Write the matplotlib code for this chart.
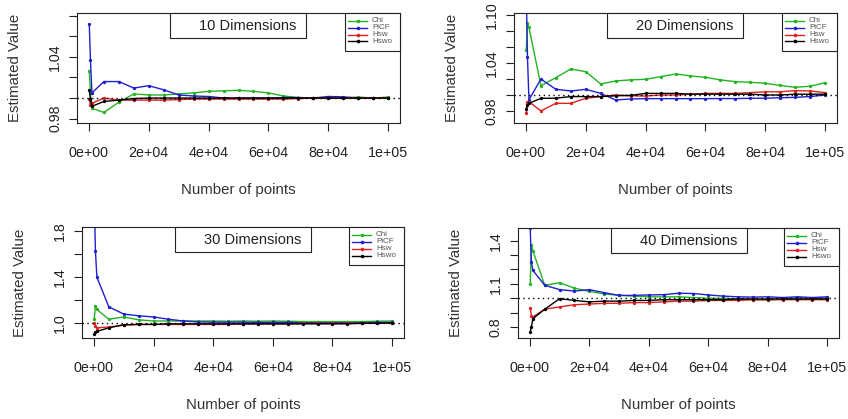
import matplotlib
matplotlib.use('Agg')
import matplotlib.pyplot as plt
from matplotlib.patches import Rectangle

plt.rcParams['font.family'] = ['Liberation Sans', 'DejaVu Sans']

# sample sizes the estimators were evaluated at
n_points = [100, 500, 1000, 5000, 10000, 15000, 20000, 25000, 30000, 35000, 40000, 45000,
            50000, 55000, 60000, 65000, 70000, 75000, 80000, 85000, 90000, 95000, 100000]

# 10 dimensions
chi_10 = [1.026, 1.005, 0.990, 0.986, 0.996, 1.004, 1.003, 1.003, 1.004, 1.005, 1.0065, 1.007,
          1.0075, 1.0065, 1.005, 1.002, 1.0005, 1.0, 1.0005, 1.0, 1.001, 1.0, 1.001]
picf_10 = [1.072, 1.037, 1.005, 1.016, 1.016, 1.0097, 1.012, 1.008, 1.003, 1.002, 1.0015, 1.0,
           1.0, 1.0, 1.0, 1.0005, 1.0005, 1.0, 1.0015, 1.0012, 1.0, 1.0, 1.0]
hsw_10 = [0.999, 0.9935, 0.995, 1.0, 0.998, 0.998, 0.998, 0.998, 0.9985, 0.999, 0.999, 0.999,
          0.999, 0.999, 0.999, 0.999, 0.9995, 1.0, 1.0, 1.0, 1.0, 1.0, 1.0]
hswo_10 = [1.008, 0.999, 0.992, 0.9967, 0.998, 0.9995, 1.0, 1.0, 1.0, 1.0, 1.0, 1.0,
           1.0, 1.0, 1.0, 1.0, 1.0, 1.0, 1.0, 1.0, 1.0, 1.0, 1.0]

# 20 dimensions
chi_20 = [1.057, 1.090, 1.085, 1.0117, 1.0218, 1.0327, 1.0293, 1.0138, 1.0176, 1.019, 1.0197, 1.023,
          1.0264, 1.024, 1.0222, 1.019, 1.0168, 1.016, 1.0147, 1.012, 1.0096, 1.011, 1.0155]
picf_20 = [1.13, 1.048, 0.994, 1.020, 1.0071, 1.005, 1.0071, 1.002, 0.9937, 0.995, 0.9954, 0.9954,
           0.9954, 0.9954, 0.9954, 0.9955, 0.9955, 0.9958, 0.996, 0.9965, 0.997, 0.998, 1.0]
hsw_20 = [0.977, 0.991, 0.9916, 0.980, 0.9895, 0.9895, 0.9958, 0.998, 1.0, 0.999, 0.9987, 1.0,
          1.0, 1.001, 1.002, 1.002, 1.002, 1.003, 1.004, 1.004, 1.0055, 1.005, 1.003]
hswo_20 = [0.983, 0.987, 0.9895, 0.9958, 0.996, 0.998, 0.998, 0.998, 0.999, 0.9995, 1.002, 1.002,
           1.002, 1.001, 1.001, 1.001, 1.001, 1.001, 1.0, 1.0, 1.001, 1.001, 1.001]

# 30 dimensions
chi_30 = [1.04, 1.15, 1.12, 1.035, 1.055, 1.03, 1.02, 1.02, 1.02, 1.02, 1.02, 1.018,
          1.02, 1.018, 1.02, 1.018, 1.015, 1.015, 1.015, 1.015, 1.015, 1.018, 1.02]
picf_30 = [2.1, 1.63, 1.40, 1.143, 1.08, 1.065, 1.055, 1.035, 1.02, 1.012, 1.01, 1.01,
           1.01, 1.008, 1.008, 1.008, 1.005, 1.005, 1.005, 1.005, 1.005, 1.008, 1.008]
hsw_30 = [1.0, 0.975, 0.96, 0.968, 0.983, 0.99, 0.99, 0.99, 0.99, 0.99, 0.99, 0.99,
          0.995, 0.995, 0.995, 0.995, 1.0, 1.0, 1.0, 1.0, 1.0, 1.0, 1.0]
hswo_30 = [0.905, 0.92, 0.93, 0.96, 0.988, 0.99, 0.99, 0.995, 0.995, 0.995, 0.995, 0.995,
           0.995, 0.995, 0.995, 0.995, 0.995, 0.995, 0.995, 0.995, 1.0, 1.0, 1.005]

# 40 dimensions
chi_40 = [1.10, 1.37, 1.33, 1.09, 1.108, 1.07, 1.048, 1.03, 1.02, 1.015, 1.01, 1.01,
          1.01, 1.005, 1.0, 1.0, 0.995, 0.99, 0.988, 0.995, 1.005, 1.0, 1.0]
picf_40 = [1.49, 1.25, 1.194, 1.09, 1.06, 1.05, 1.06, 1.039, 1.02, 1.02, 1.023, 1.025,
           1.035, 1.033, 1.023, 1.015, 1.01, 1.008, 1.01, 1.005, 1.01, 1.005, 1.01]
hsw_40 = [0.933, 0.88, 0.87, 0.924, 0.94, 0.955, 0.96, 0.965, 0.965, 0.97, 0.97, 0.975,
          0.98, 0.98, 0.985, 0.985, 0.985, 0.99, 0.99, 0.99, 0.99, 0.99, 0.99]
hswo_40 = [0.766, 0.80, 0.858, 0.924, 0.997, 0.985, 0.975, 0.98, 0.98, 0.985, 0.985, 0.99,
           0.99, 0.99, 0.99, 0.99, 0.995, 0.995, 0.995, 0.995, 0.995, 0.995, 0.995]

series_names = ['Chi', 'PiCF', 'Hsw', 'Hswo']
series_colors = ['#22b422', '#1f1fd0', '#dd2020', 'black']

x_ticks = [0, 20000, 40000, 60000, 80000, 100000]
x_labels = ['0e+00', '2e+04', '4e+04', '6e+04', '8e+04', '1e+05']

y_ticks_10 = [0.98, 1.00, 1.02, 1.04, 1.06, 1.08]
y_labels_10 = ['0.98', '', '', '1.04', '', '']
y_ticks_20 = [0.98, 1.00, 1.02, 1.04, 1.06, 1.08, 1.10]
y_labels_20 = ['0.98', '', '', '1.04', '', '', '1.10']
y_ticks_30 = [1.0, 1.2, 1.4, 1.6, 1.8]
y_labels_30 = ['1.0', '', '1.4', '', '1.8']
y_ticks_40 = [0.8, 0.9, 1.0, 1.1, 1.2, 1.3, 1.4]
y_labels_40 = ['0.8', '', '', '1.1', '', '', '1.4']

W, H = 848, 419
fig = plt.figure(figsize=(W / 100, H / 100), dpi=100)


def add_panel(left, top, right, bottom, title, data, ylim, yticks, ylabels):
    ax = fig.add_axes([left / W, 1 - bottom / H, (right - left) / W, (bottom - top) / H])
    aw, ah = right - left, bottom - top

    for vals, col in zip(data, series_colors):
        ax.plot(n_points, vals, color=col, lw=1.0, marker='o', ms=2.4, mew=0)
    ax.axhline(1.0, color='black', lw=1.0, ls=(0, (1, 2.5)), zorder=5)

    ax.set_xlim(-4000, 104000)
    ax.set_ylim(*ylim)
    ax.set_xticks(x_ticks)
    ax.set_xticklabels(x_labels)
    ax.set_yticks(yticks)
    ax.set_yticklabels(ylabels)
    ax.tick_params(axis='both', length=5.8, width=0.8, labelsize=10.3, colors='#222222')
    ax.tick_params(axis='x', pad=10.5)
    ax.tick_params(axis='y', pad=5)
    plt.setp(ax.get_yticklabels(), rotation=90, va='center')
    for sp in ax.spines.values():
        sp.set_linewidth(0.8)
        sp.set_color('#222222')
    ax.set_xlabel('Number of points', fontsize=10.8, labelpad=17, color='#333333')
    ax.set_ylabel('Estimated Value', fontsize=10.8, labelpad=19, color='#333333')

    # title box at the top centre
    ax.add_patch(Rectangle((93 / aw, 1 - 25 / ah), 136 / aw, 25 / ah, transform=ax.transAxes,
                           facecolor='white', edgecolor='#222222', lw=0.8, zorder=10, clip_on=False))
    ax.text(122 / aw, 1 - 12.5 / ah, title, transform=ax.transAxes, fontsize=10.5,
            va='center', ha='left', zorder=11, color='#222222')

    # small legend in the top right corner
    ax.add_patch(Rectangle((1 - 55 / aw, 1 - 38 / ah), 55 / aw, 38 / ah, transform=ax.transAxes,
                           facecolor='white', edgecolor='#222222', lw=0.8, zorder=10, clip_on=False))
    for i, (name, col) in enumerate(zip(series_names, series_colors)):
        yy = 1 - (7.8 + 6.9 * i) / ah
        ax.plot([1 - 52 / aw, 1 - 33 / aw], [yy, yy], transform=ax.transAxes, color=col,
                lw=1.0, zorder=11, clip_on=False)
        ax.plot([1 - 42.5 / aw], [yy], transform=ax.transAxes, color=col, marker='o',
                ms=2.6, mew=0, zorder=11, clip_on=False)
        ax.text(1 - 28 / aw, yy, name, transform=ax.transAxes, fontsize=5.8,
                va='center', ha='left', color='#555555', zorder=11)
    return ax


add_panel(77, 13, 400, 123, '10 Dimensions', [chi_10, picf_10, hsw_10, hswo_10],
          (0.9758, 1.0825), y_ticks_10, y_labels_10)
add_panel(514, 13, 837, 123, '20 Dimensions', [chi_20, picf_20, hsw_20, hswo_20],
          (0.9648, 1.103), y_ticks_20, y_labels_20)
add_panel(82, 227, 404, 338, '30 Dimensions', [chi_30, picf_30, hsw_30, hswo_30],
          (0.872, 1.837), y_ticks_30, y_labels_30)
add_panel(518, 228, 839, 338, '40 Dimensions', [chi_40, picf_40, hsw_40, hswo_40],
          (0.724, 1.488), y_ticks_40, y_labels_40)

fig.savefig('out.png', dpi=100)
